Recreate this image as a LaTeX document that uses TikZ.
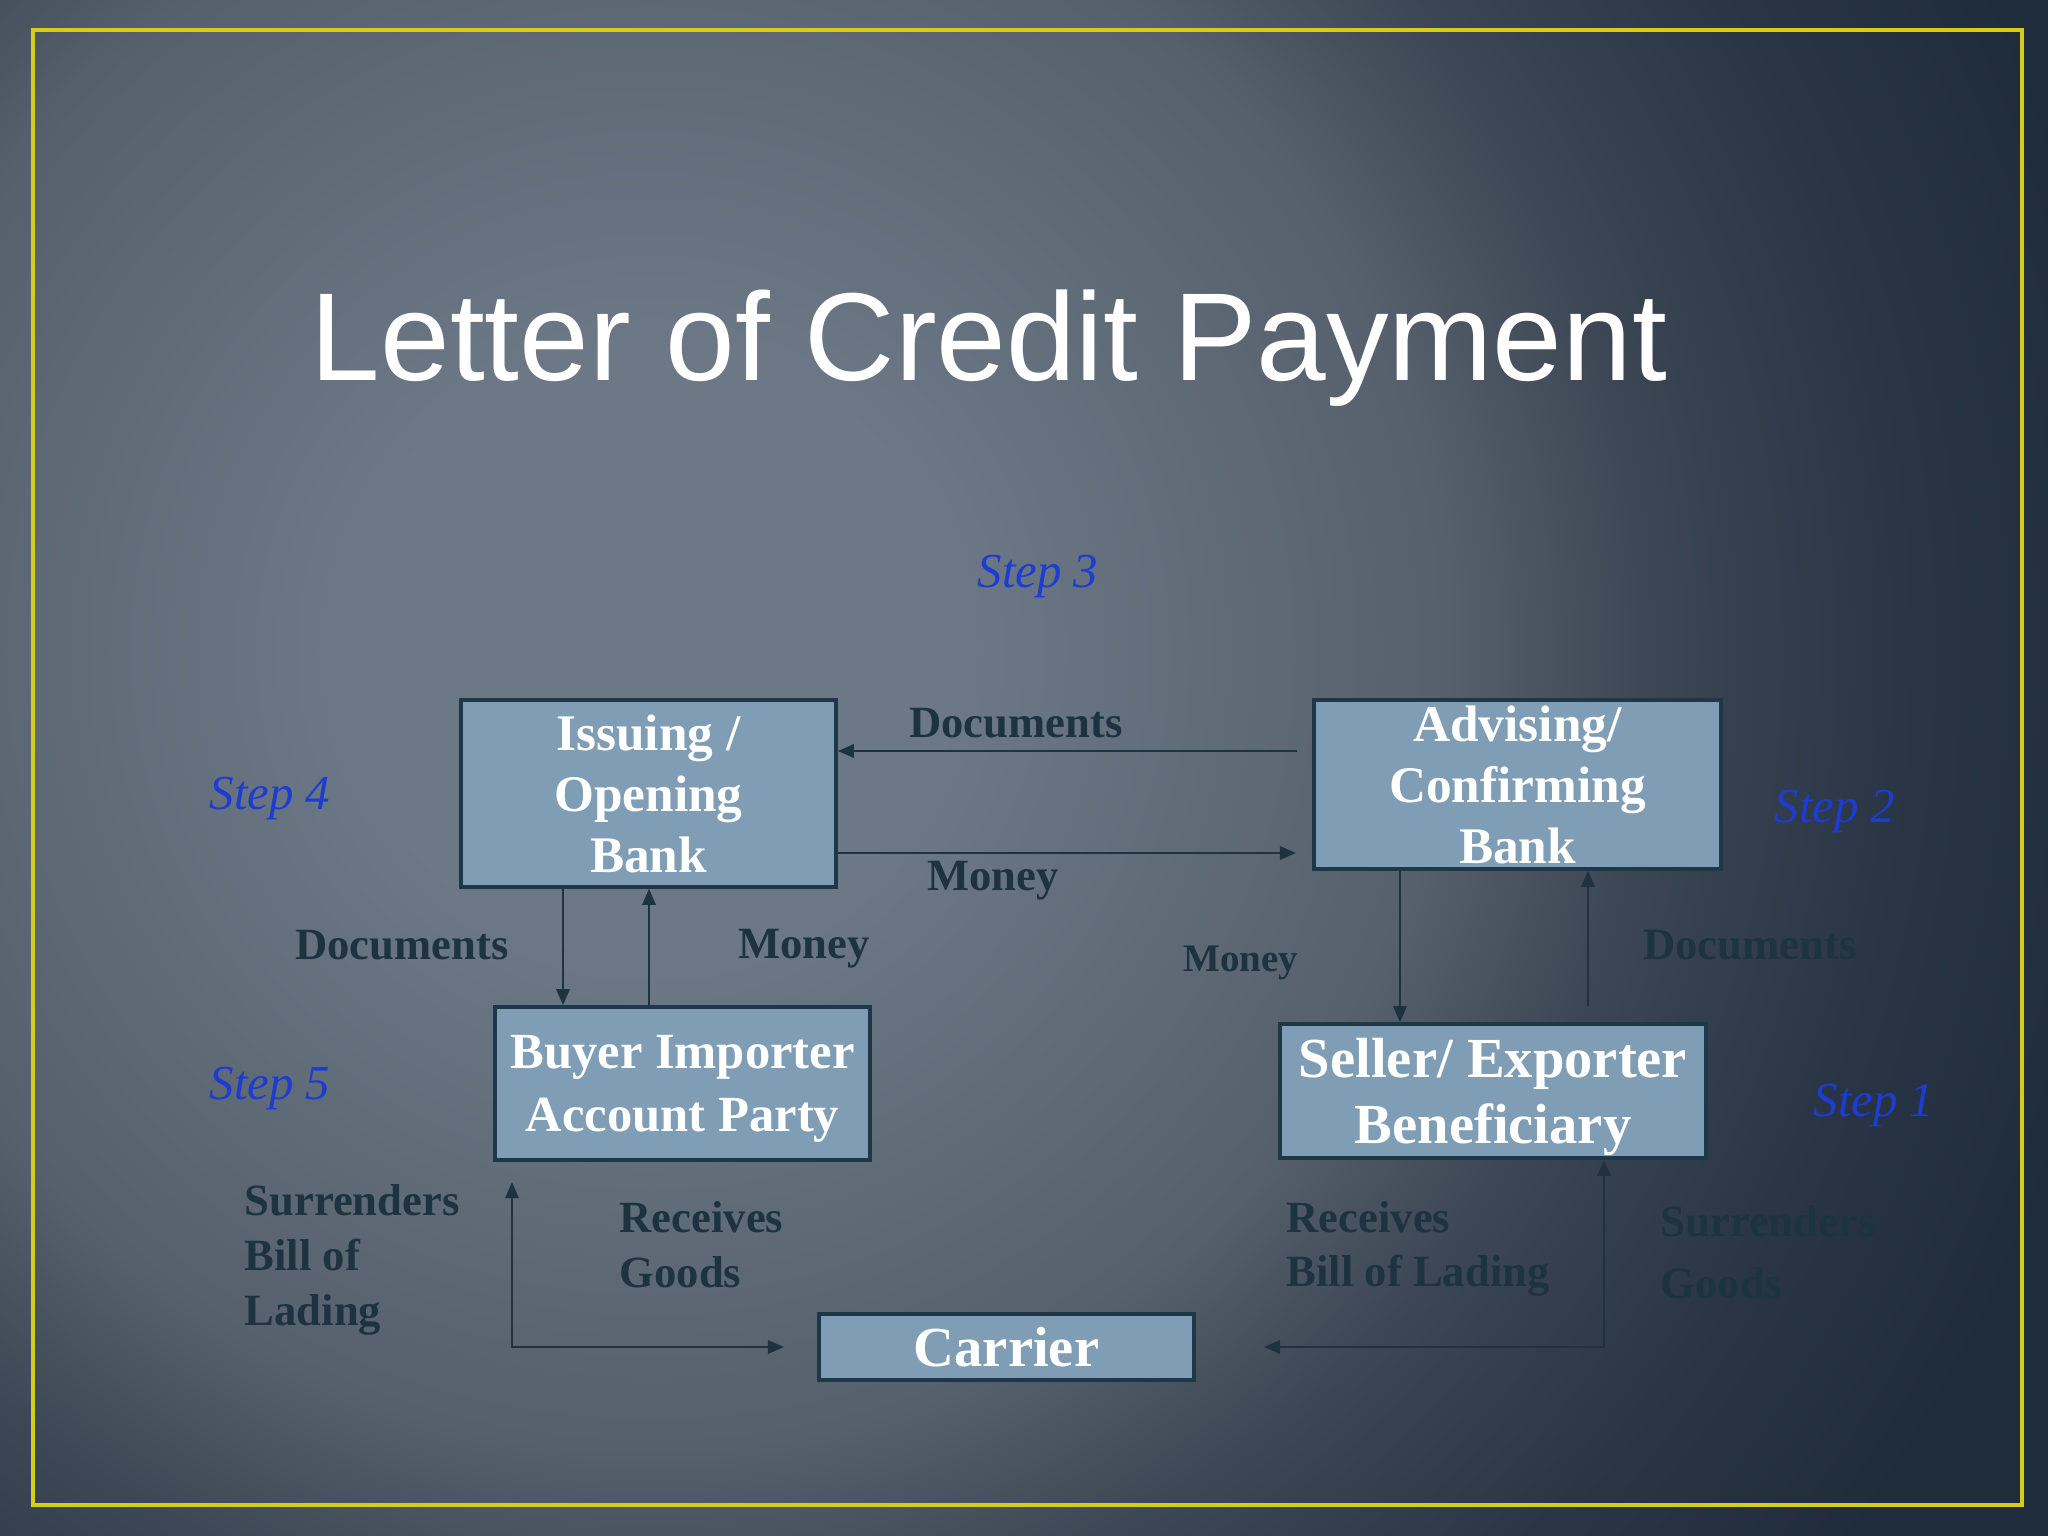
\documentclass[tikz,border=0pt]{standalone}
\usepackage{fontspec}
\setmainfont{Liberation Serif}
\newfontfamily\titlefont{Liberation Sans}
\usetikzlibrary{arrows.meta}

\definecolor{bgLight}{HTML}{6C7886}
\definecolor{bgMid}{HTML}{56606C}
\definecolor{bgMidLow}{HTML}{3C4654}
\definecolor{bgLow}{HTML}{2A3646}
\definecolor{bgDark}{HTML}{1F2C3C}
\definecolor{boxFill}{HTML}{7F9DB5}
\definecolor{boxLine}{HTML}{1E3848}
\definecolor{flowInk}{HTML}{1D3340}
\definecolor{stepBlue}{HTML}{1C3CD2}
\definecolor{frameYellow}{HTML}{D6CC1A}

\pgfdeclareradialshading{slideglow}{\pgfpoint{0bp}{0bp}}{%
  color(0bp)=(bgLight); color(4.7bp)=(bgLight); color(12.5bp)=(bgMid);
  color(15.6bp)=(bgMidLow); color(19.5bp)=(bgLow); color(23.4bp)=(bgDark); color(50bp)=(bgDark)}

\begin{document}
\begin{tikzpicture}[
  box/.style={draw=boxLine, line width=1pt, fill=boxFill, text=white, align=center,
    inner sep=0pt, text depth=0pt, font=\bfseries\fontsize{14.6}{17.4}\selectfont},
  flowtext/.style={text=flowInk, align=left, inner sep=0pt, font=\bfseries\fontsize{12.7}{15.6}\selectfont},
  steptext/.style={text=stepBlue, inner sep=0pt, font=\itshape\fontsize{13.9}{16}\selectfont},
  flow/.style={draw=flowInk, line width=0.7pt, -{Triangle[length=4.6pt,width=3.8pt]}},
  flowboth/.style={draw=flowInk, line width=0.7pt, {Triangle[length=4.6pt,width=3.8pt]}-{Triangle[length=4.6pt,width=3.8pt]}}
]
 \useasboundingbox (0,0) rectangle (20.48,-15.36);
 \fill[bgDark] (0,0) rectangle (20.48,-15.36);
 \begin{scope}
  \clip (0,0) rectangle (20.48,-15.36);
  \shade[shading=slideglow] (6.5,-6.5) circle (16);
 \end{scope}
 \draw[frameYellow, line width=1.1pt] (0.33,-0.30) rectangle (20.22,-15.05);

 % title
 \draw (9.89, -3.81) node[anchor=base, text=white, font=\titlefont\fontsize{35.6}{40}\selectfont] (title) {Letter of Credit Payment};

 % parties
 \draw (6.485, -7.935) node[box, minimum width=3.75cm, minimum height=1.87cm] (issuing) {Issuing /\\Opening\\Bank};
 \draw (15.175, -7.845) node[box, minimum width=4.07cm, minimum height=1.69cm] (advising) {Advising/\\Confirming\\Bank};
 \draw (6.825, -10.835) node[box, minimum width=3.75cm, minimum height=1.53cm, font=\bfseries\fontsize{14.4}{17.9}\selectfont] (buyer) {Buyer Importer\\Account Party};
 \draw (14.93, -10.91) node[box, minimum width=4.26cm, minimum height=1.34cm, font=\bfseries\fontsize{16.1}{18.8}\selectfont] (seller) {Seller/ Exporter\\Beneficiary};
 \draw (10.065, -13.47) node[box, minimum width=3.75cm, minimum height=0.66cm, font=\bfseries\fontsize{16.1}{18.8}\selectfont] (carrier) {Carrier};

 % steps
 \draw (10.38, -5.77) node[steptext] (step3) {Step 3};
 \draw (2.70, -7.99) node[steptext] (step4) {Step 4};
 \draw (18.35, -8.12) node[steptext] (step2) {Step 2};
 \draw (2.70, -10.89) node[steptext] (step5) {Step 5};
 \draw (18.74, -11.06) node[steptext] (step1) {Step 1};

 % what moves
 \draw (10.16, -7.23) node[flowtext] (docsTop) {Documents};
 \draw (9.93, -8.81) node[flowtext] (moneyTop) {Money};
 \draw (4.02, -9.45) node[flowtext] (docsLeft) {Documents};
 \draw (8.04, -9.49) node[flowtext] (moneyLeft) {Money};
 \draw (12.41, -9.63) node[flowtext, font=\bfseries\fontsize{11.1}{13}\selectfont] (moneyRight) {Money};
 \draw (17.50, -9.45) node[flowtext] (docsRight) {Documents};
 \draw (2.44, -12.60) node[flowtext, anchor=west] (surrBill) {Surrenders\\Bill of\\Lading};
 \draw (6.19, -12.45) node[flowtext, anchor=west] (recvGoods) {Receives\\Goods};
 \draw (12.86, -12.49) node[flowtext, anchor=west] (recvBill) {Receives\\Bill of Lading};
 \draw (16.60, -12.52) node[flowtext, anchor=west, font=\bfseries\fontsize{12.7}{17.6}\selectfont] (surrGoods) {Surrenders\\Goods};

 % free ends
 \coordinate (docsStart) at (12.97, -7.51);
 \coordinate (moneyEnd) at (12.96, -8.53);
 \coordinate (docsUp) at (15.88, -10.06);
 \coordinate (bolUp) at (5.12, -11.82);
 \coordinate (goodsIn) at (7.84, -13.47);
 \coordinate (bolIn) at (12.64, -13.47);

 \draw[flow] (docsStart) -- (docsStart -| issuing.east);
 \draw[flow] (moneyEnd -| issuing.east) -- (moneyEnd);
 \draw[flow] (5.63,0 |- issuing.south) -- (5.63,0 |- buyer.north);
 \draw[flow] (6.49,0 |- buyer.north) -- (6.49,0 |- issuing.south);
 \draw[flow] (14.00,0 |- advising.south) -- (14.00,0 |- seller.north);
 \draw[flow] (docsUp) -- (docsUp |- advising.south);
 \draw[flowboth] (bolUp) |- (goodsIn);
 \draw[flowboth] (16.04,0 |- seller.south) |- (bolIn);
\end{tikzpicture}
\end{document}
